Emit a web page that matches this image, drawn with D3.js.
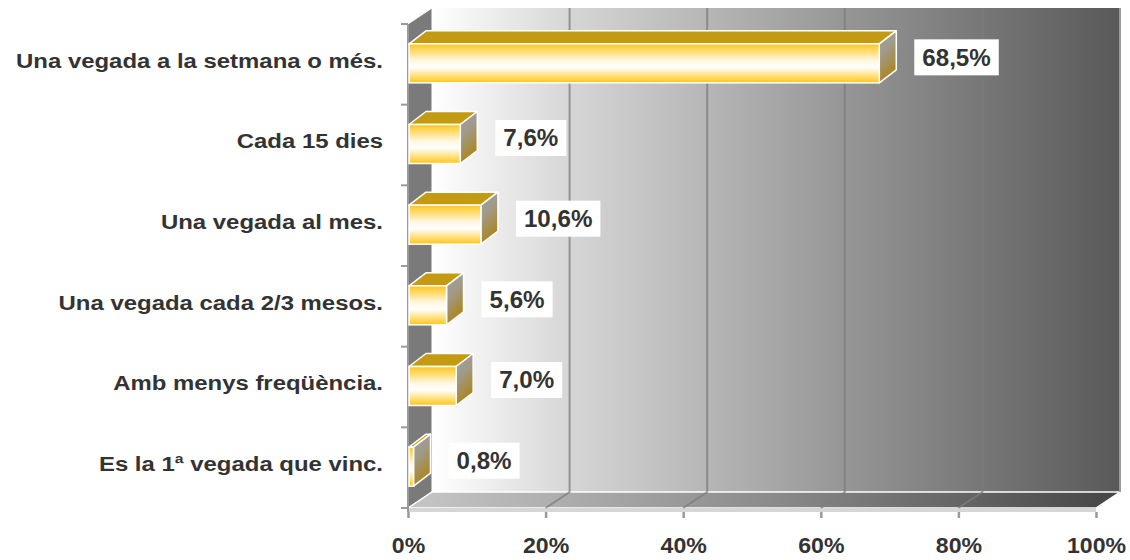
<!DOCTYPE html>
<html lang="ca">
<head>
<meta charset="utf-8">
<script src="https://d3js.org/d3.v7.min.js"></script>
<style>
  body { margin: 0; background: #fff; }
  text { font-family: Arial, "Liberation Sans", sans-serif; font-weight: bold; fill: #333; }
</style>
</head>
<body>
<svg id="grafic" width="1130" height="560"></svg>
<script>
// dades
const categories = [
  "Una vegada a la setmana o més.",
  "Cada 15 dies",
  "Una vegada al mes.",
  "Una vegada cada 2/3 mesos.",
  "Amb menys freqüència.",
  "Es la 1ª vegada que vinc."
];
const valors = [68.5, 7.6, 10.6, 5.6, 7.0, 0.8];
const etiquetes = ["68,5%", "7,6%", "10,6%", "5,6%", "7,0%", "0,8%"];
const ticksX = [0, 20, 40, 60, 80, 100];

const svg = d3.select("#grafic");

// geometria 3D
const fons = {dx: 24, dy: 16};   // profunditat de la paret
const barra = {dx: 17, dy: 13};  // profunditat de les barres
const x = d3.scaleLinear().domain([0, 100]).range([408, 1096]);
const y = d3.scaleBand().domain(categories).range([24, 508]);
const terra = y.range()[1];

// el text original surt una mica eixamplat
const eixCat = 1.14, eixNum = 1.05;

// gradients
const defs = svg.append("defs");
function grad(id, attrs, stops) {
  const g = defs.append("linearGradient").attr("id", id);
  Object.entries(attrs).forEach(([k, v]) => g.attr(k, v));
  stops.forEach(s => g.append("stop").attr("offset", s[0]).attr("stop-color", s[1]));
}
grad("paret", {gradientUnits: "userSpaceOnUse", x1: x(0) + fons.dx, x2: x(100) + fons.dx, y1: 0, y2: 0},
  [[0, "#ffffff"], [0.2, "#d6d6d6"], [0.4, "#b6b6b6"], [0.6, "#969696"], [0.8, "#777777"], [1, "#595959"]]);
grad("terra", {gradientUnits: "userSpaceOnUse", x1: x(0), x2: x(100) + fons.dx, y1: 0, y2: 0},
  [[0, "#c6c6c6"], [0.5, "#8c8c8c"], [1, "#454545"]]);
grad("frontal", {x1: 0, x2: 0, y1: 0, y2: 1},
  [[0, "#ffc41a"], [0.12, "#ffd452"], [0.42, "#fff6e0"], [0.6, "#ffffff"], [0.85, "#ffdc6a"], [1, "#ffc41a"]]);
grad("lateral", {x1: 0, x2: 0.35, y1: 0, y2: 1},
  [[0, "#a0a0a0"], [0.45, "#a09a8a"], [1, "#ad8418"]]);

const pts = p => p.map(d => d.join(",")).join(" ");

// paret del fons
svg.append("rect")
  .attr("x", x(0) + fons.dx).attr("y", y.range()[0] - fons.dy)
  .attr("width", x(100) - x(0)).attr("height", terra - y.range()[0])
  .attr("fill", "url(#paret)");

// paret lateral esquerra
svg.append("polygon")
  .attr("points", pts([[x(0), y.range()[0]], [x(0) + fons.dx, y.range()[0] - fons.dy],
    [x(0) + fons.dx, terra - fons.dy], [x(0), terra]]))
  .attr("fill", "#7a7a7a").attr("stroke", "#fff").attr("stroke-width", 1);

// terra
svg.append("polygon")
  .attr("points", pts([[x(0), terra], [x(0) + fons.dx, terra - fons.dy],
    [x(100) + fons.dx, terra - fons.dy], [x(100), terra]]))
  .attr("fill", "url(#terra)").attr("stroke", "#fff").attr("stroke-width", 1.5);
svg.append("rect")
  .attr("x", x(0)).attr("y", terra).attr("width", x(100) - x(0)).attr("height", 4)
  .attr("fill", "#d6d6d6");
svg.append("line")
  .attr("x1", x(100) + fons.dx).attr("x2", x(100) + fons.dx)
  .attr("y1", y.range()[0] - fons.dy).attr("y2", terra - fons.dy)
  .attr("stroke", "#9a9a9a").attr("stroke-width", 2);

// línies de graella
const graella = svg.append("g").attr("stroke", "#7d7d7d").attr("stroke-width", 2).attr("fill", "none").attr("opacity", 0.75);
ticksX.filter(t => t > 0 && t < 100).forEach(t => {
  graella.append("polyline")
    .attr("points", pts([[x(t) + fons.dx, y.range()[0] - fons.dy], [x(t) + fons.dx, terra - fons.dy], [x(t), terra]]));
});

// eix vertical
svg.append("line")
  .attr("x1", x(0)).attr("x2", x(0)).attr("y1", y.range()[0]).attr("y2", terra + 4)
  .attr("stroke", "#9a9a9a").attr("stroke-width", 2);
const limits = categories.map(c => y(c)).concat([terra]);
svg.append("g").selectAll("line").data(limits).join("line")
  .attr("x1", x(0) - 7).attr("x2", x(0)).attr("y1", d => d).attr("y2", d => d)
  .attr("stroke", "#9a9a9a").attr("stroke-width", 2);

svg.append("g")
  .attr("transform", `translate(${x(0)},0)`)
  .call(d3.axisLeft(y).tickSize(0).tickPadding(25))
  .call(g => g.select(".domain").remove())
  .selectAll("text")
  .style("font-size", "21px")
  .attr("dy", "0.16em")
  .attr("x", -25 / eixCat)
  .attr("transform", `scale(${eixCat},1)`);

// eix horitzontal
svg.append("g")
  .attr("transform", `translate(0,${terra + 4})`)
  .call(d3.axisBottom(x).tickValues(ticksX).tickFormat(d => d + "%").tickSize(6).tickPadding(19))
  .call(g => g.select(".domain").remove())
  .call(g => g.selectAll("line").attr("stroke", "#9a9a9a").attr("stroke-width", 2.5))
  .selectAll("text")
  .style("font-size", "22px")
  .attr("transform", `scale(${eixNum},1)`);

// barres
const barres = svg.append("g").selectAll("g").data(valors).join("g");
barres.each(function (v, i) {
  const g = d3.select(this);
  const cy = y(categories[i]) + y.bandwidth() / 2 - 1;
  const h = 39;
  const y0 = cy - h / 2, y1 = cy + h / 2;
  const x0 = x(0) + 1, x1 = x(v);
  g.append("polygon")
    .attr("points", pts([[x0, y0], [x0 + barra.dx, y0 - barra.dy], [x1 + barra.dx, y0 - barra.dy], [x1, y0]]))
    .attr("fill", "#c49a12").attr("stroke", "#fff").attr("stroke-width", 1.5).attr("stroke-linejoin", "round");
  g.append("polygon")
    .attr("points", pts([[x1, y0], [x1 + barra.dx, y0 - barra.dy], [x1 + barra.dx, y1 - barra.dy], [x1, y1]]))
    .attr("fill", "url(#lateral)").attr("stroke", "#fff").attr("stroke-width", 1.5).attr("stroke-linejoin", "round");
  g.append("rect")
    .attr("x", x0).attr("y", y0).attr("width", x1 - x0).attr("height", h)
    .attr("fill", "url(#frontal)").attr("stroke", "#fff").attr("stroke-width", 1.5);
});

// etiquetes de dades
const et = svg.append("g").selectAll("g").data(valors).join("g")
  .attr("transform", (v, i) => `translate(${x(v) + 35},${y(categories[i]) + y.bandwidth() / 2 - 7})`);
et.append("text")
  .attr("text-anchor", "middle").attr("dy", "0.36em").style("font-size", "23px")
  .text((v, i) => etiquetes[i]);
et.each(function () {
  const g = d3.select(this);
  const t = g.select("text");
  const w = t.node().getComputedTextLength() * eixNum + 16;
  t.attr("x", w / 2 / eixNum).attr("transform", `scale(${eixNum},1)`);
  g.insert("rect", "text").attr("x", 0).attr("y", -18).attr("width", w).attr("height", 36).attr("fill", "#fff");
});
</script>
</body>
</html>
